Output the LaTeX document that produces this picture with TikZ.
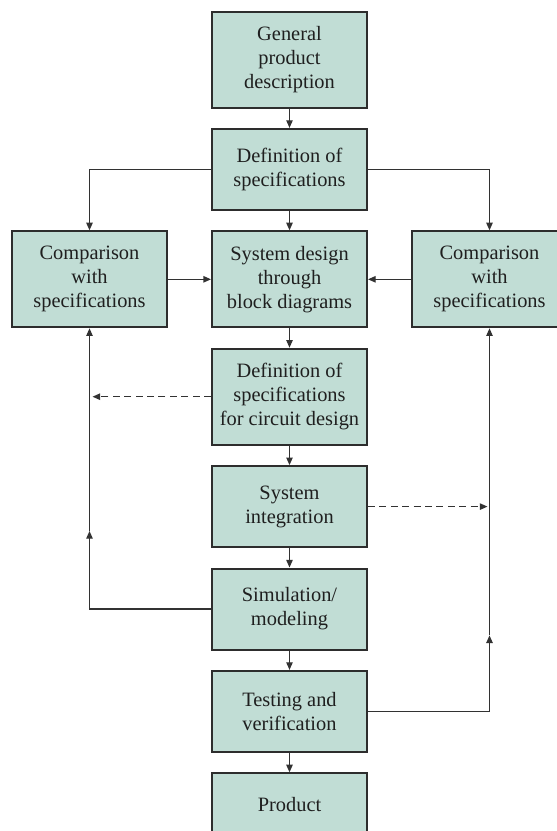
\documentclass[tikz,border=0pt]{standalone}
\usepackage{fontspec}
\setmainfont{Liberation Serif}
\usetikzlibrary{positioning,arrows.meta}

\definecolor{boxfill}{RGB}{193,221,213}
\definecolor{boxline}{RGB}{45,45,45}
\definecolor{wire}{RGB}{50,50,50}

\begin{document}
\begin{tikzpicture}[
	blk/.style={draw=boxline, fill=boxfill, line width=1pt, minimum width=77.5pt,
		align=center, inner sep=0pt, text=black!88,
		font=\fontsize{10.2}{12}\selectfont},
	tall/.style={blk, minimum height=48pt},
	short/.style={blk, minimum height=40.5pt},
	arr/.style={draw=wire, line width=0.6pt, -{Triangle[length=3.8pt,width=3.2pt]}},
	dasharr/.style={arr, dash pattern=on 3.5pt off 2.2pt},
	node distance=9.7pt
]
	\useasboundingbox (0,0) rectangle (278.5pt,-415.5pt);

	% main column
	\node[tall] (gen) at (144.75pt,-29.75pt) {General\\product\\description};
	\node[short, below=of gen] (defspec) {Definition of\\specifications};
	\node[tall, below=of defspec] (sysdes) {System design\\through\\block diagrams};
	\node[tall, below=of sysdes] (defcirc) {Definition of\\specifications\\for circuit design};
	\node[short, below=of defcirc] (sysint) {System\\integration};
	\node[short, below=of sysint] (sim) {Simulation/\\modeling};
	\node[short, below=of sim] (test) {Testing and\\verification};
	\node[blk, minimum height=31pt, below=of test] (prod) {Product};

	% side boxes
	\node[tall, left=21.5pt of sysdes] (cmpl) {Comparison\\with\\specifications};
	\node[tall, right=21.5pt of sysdes] (cmpr) {Comparison\\with\\specifications};

	% downward flow
	\draw[arr] (gen) -- (defspec);
	\draw[arr] (defspec) -- (sysdes);
	\draw[arr] (sysdes) -- (defcirc);
	\draw[arr] (defcirc) -- (sysint);
	\draw[arr] (sysint) -- (sim);
	\draw[arr] (sim) -- (test);
	\draw[arr] (test) -- (prod);

	% specifications to the comparisons
	\draw[arr] (defspec.west) -| (cmpl.north);
	\draw[arr] (defspec.east) -| (cmpr.north);
	\draw[arr] (cmpl) -- (sysdes);
	\draw[arr] (cmpr) -- (sysdes);

	% feedback on the left
	\coordinate (lturn) at (cmpl.south |- sim.west);
	\coordinate (lmid) at ([yshift=39pt]lturn);
	\draw[arr] (sim.west) -- (lturn) -- (lmid);
	\draw[arr] (lmid) -- (cmpl.south);
	\draw[dasharr] (defcirc.west) -- ([xshift=1.5pt]cmpl.south |- defcirc.west);

	% feedback on the right
	\coordinate (rturn) at (cmpr.south |- test.east);
	\coordinate (rmid) at ([yshift=38pt]rturn);
	\draw[arr] (test.east) -- (rturn) -- (rmid);
	\draw[arr] (rmid) -- (cmpr.south);
	\draw[dasharr] (sysint.east) -- ([xshift=-1pt]cmpr.south |- sysint.east);
\end{tikzpicture}
\end{document}
